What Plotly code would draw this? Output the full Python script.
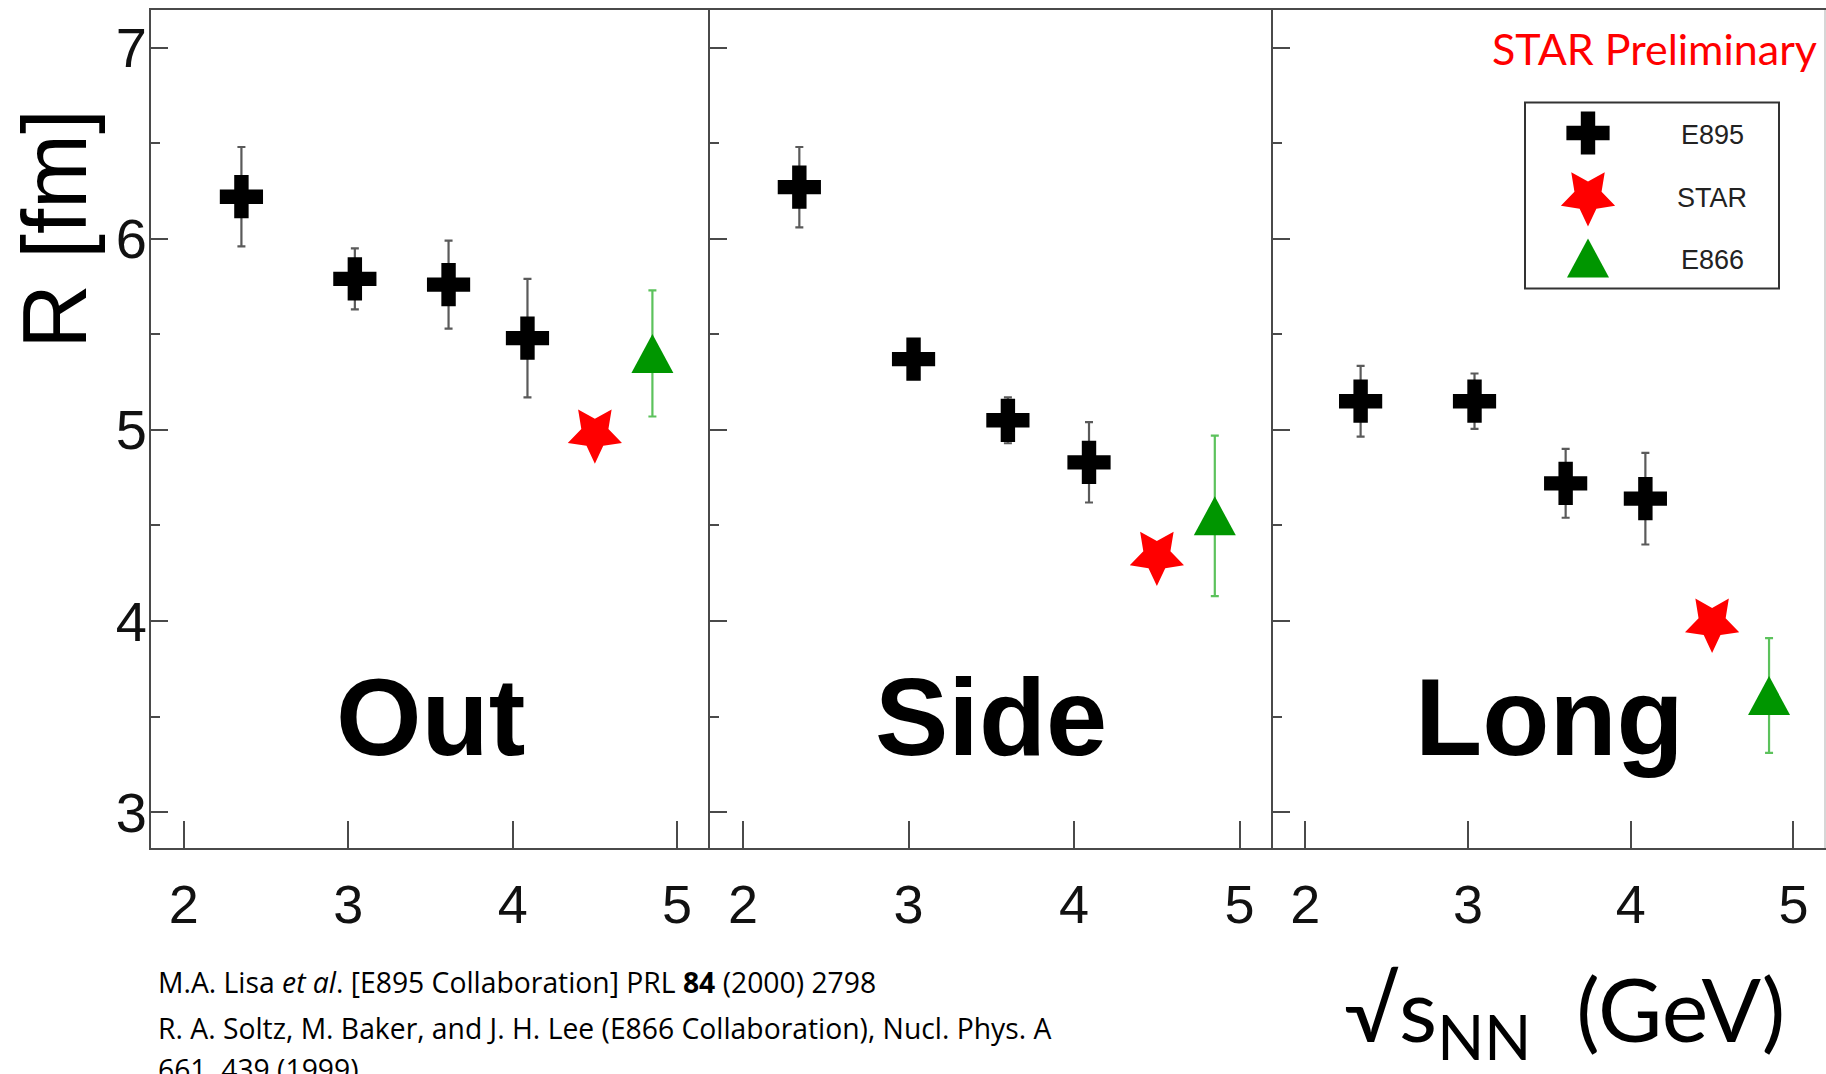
import math
import plotly.graph_objects as go

# ---- HBT radii vs collision energy (sqrt(s_NN) in GeV, R in fm) ----
panel_names = ["Out", "Side", "Long"]

# E895 (black crosses)
e895_out_x = [2.35, 3.04, 3.61, 4.09]
e895_out_r = [6.22, 5.79, 5.76, 5.48]
e895_out_err = [0.26, 0.16, 0.23, 0.31]

e895_side_x = [2.34, 3.03, 3.60, 4.09]
e895_side_r = [6.27, 5.37, 5.05, 4.83]
e895_side_err = [0.21, 0.08, 0.12, 0.21]

e895_long_x = [2.34, 3.04, 3.60, 4.09]
e895_long_r = [5.15, 5.15, 4.72, 4.64]
e895_long_err = [0.185, 0.145, 0.18, 0.24]

# STAR (red stars), one point per panel: Out, Side, Long
star_x = [4.50, 4.50, 4.50]
star_r = [4.98, 4.34, 3.99]

# E866 (green triangles), one point per panel: Out, Side, Long
e866_x = [4.85, 4.85, 4.85]
e866_r = [5.40, 4.55, 3.61]
e866_err = [0.33, 0.42, 0.30]

x_ticks = [2, 3, 4, 5]
y_ticks = [3, 4, 5, 6, 7]

# ---- page geometry ----
W, H = 1826, 1074
ML, MR, MT, MB = 151, 0, 10, 226
PW, PH = W - ML - MR, H - MT - MB


def px_x(x):
    """page pixel -> paper fraction (horizontal)"""
    return (x - ML) / PW


def px_y(y):
    """page pixel -> paper fraction (vertical)"""
    return (H - MB - y) / PH


FRAME = "#4a4a4a"
BLACK = "#000000"
RED = "#ff0000"
GREEN = "#009600"
GREEN_BAR = "#5cc25c"
AXIS_FONT = "Liberation Sans, Arial, sans-serif"
TEXT_FONT = "Lato, 'Open Sans', sans-serif"
REF_FONT = "'Open Sans', Lato, sans-serif"

e895_sets = [
    (e895_out_x, e895_out_r, e895_out_err),
    (e895_side_x, e895_side_r, e895_side_err),
    (e895_long_x, e895_long_r, e895_long_err),
]


def star_path(rx, ry, inner=0.5):
    """Five-pointed star, single point facing down, in pixel units (y up)."""
    pts = []
    for k in range(10):
        ang = math.radians(-90 + 36 * k)
        rad = 1.0 if k % 2 == 0 else inner
        pts.append((rad * rx * math.cos(ang), rad * ry * math.sin(ang)))
    return "M" + " L".join(f"{x:.2f},{y:.2f}" for x, y in pts) + " Z"


TRI_PATH = "M-21,-19.5 L21,-19.5 L0,19.5 Z"
STAR_PATH = star_path(28.5, 30.0, 0.5)


def marker_shape(path, xref, yref, x, y, color):
    return dict(type="path", path=path, xref=xref, yref=yref,
                xsizemode="pixel", ysizemode="pixel", xanchor=x, yanchor=y,
                fillcolor=color, line=dict(width=0), layer="above")


fig = go.Figure()
shapes = []

for i, name in enumerate(panel_names):
    xa = "x" if i == 0 else f"x{i + 1}"
    ya = "y" if i == 0 else f"y{i + 1}"
    ex, er, ee = e895_sets[i]

    # E895
    fig.add_trace(go.Scatter(
        x=ex, y=er, xaxis=xa, yaxis=ya, mode="markers", name="E895",
        showlegend=False, cliponaxis=False,
        marker=dict(symbol="cross", size=36, color=BLACK, line=dict(width=0)),
        error_y=dict(type="data", array=ee, color="#5a5a5a", thickness=2.2, width=4),
    ))
    # E866 error bars (triangle drawn as a shape anchored on the point)
    fig.add_trace(go.Scatter(
        x=[e866_x[i]], y=[e866_r[i]], xaxis=xa, yaxis=ya, mode="markers",
        name="E866", showlegend=False, cliponaxis=False,
        marker=dict(size=1, color="rgba(0,0,0,0)"),
        error_y=dict(type="data", array=[e866_err[i]], color=GREEN_BAR, thickness=2.2, width=4),
    ))
    shapes.append(marker_shape(TRI_PATH, xa, ya, e866_x[i], e866_r[i], GREEN))
    # STAR point (star drawn as a shape anchored on the point)
    fig.add_trace(go.Scatter(
        x=[star_x[i]], y=[star_r[i]], xaxis=xa, yaxis=ya, mode="markers",
        name="STAR", showlegend=False, cliponaxis=False,
        marker=dict(size=1, color="rgba(0,0,0,0)"),
    ))
    shapes.append(marker_shape(STAR_PATH, xa, ya, star_x[i], star_r[i], RED))

# ---- legend (drawn by hand) ----
LEG_X0, LEG_X1 = px_x(1525), px_x(1779)
LEG_Y0, LEG_Y1 = px_y(288.6), px_y(102.6)
leg_key_x = px_x(1588)
leg_rows = [px_y(133), px_y(196.5), px_y(258)]
leg_text_x = px_x(1712)
leg_text_rows = [px_y(135), px_y(198), px_y(260)]

shapes.append(dict(type="rect", xref="paper", yref="paper",
                   x0=LEG_X0, x1=LEG_X1, y0=LEG_Y0, y1=LEG_Y1,
                   line=dict(color="#333333", width=2), layer="below"))

fig.add_trace(go.Scatter(
    x=[leg_key_x], y=[leg_rows[0]], xaxis="x4", yaxis="y4", mode="markers",
    showlegend=False, cliponaxis=False,
    marker=dict(symbol="cross", size=36, color=BLACK, line=dict(width=0)),
))
shapes.append(marker_shape(STAR_PATH, "paper", "paper", leg_key_x, leg_rows[1], RED))
shapes.append(marker_shape(TRI_PATH, "paper", "paper", leg_key_x, leg_rows[2], GREEN))

# faint right-hand edge of the frame
shapes.append(dict(type="line", xref="paper", yref="paper",
                   x0=px_x(1825), x1=px_x(1825), y0=0, y1=1,
                   line=dict(color="#c8c8c8", width=1.5), layer="below"))

annotations = []
for label, yy in zip(["E895", "STAR", "E866"], leg_text_rows):
    annotations.append(dict(
        text=label, xref="paper", yref="paper", x=leg_text_x, y=yy,
        xanchor="center", yanchor="middle", showarrow=False,
        font=dict(family=AXIS_FONT, size=27, color="#222222"),
    ))

# panel names
for i, name in enumerate(panel_names):
    xa = "x" if i == 0 else f"x{i + 1}"
    ya = "y" if i == 0 else f"y{i + 1}"
    annotations.append(dict(
        text=f"<b>{name}</b>", xref=xa, yref=ya, x=3.5, y=3.5,
        xanchor="center", yanchor="middle", showarrow=False,
        font=dict(family=AXIS_FONT, size=110, color=BLACK),
    ))

# y-axis title
annotations.append(dict(
    text="R [fm]", xref="paper", yref="paper", x=px_x(55), y=px_y(229),
    xanchor="center", yanchor="middle", textangle=-90, showarrow=False,
    font=dict(family=AXIS_FONT, size=90, color=BLACK),
))

# preliminary tag
annotations.append(dict(
    text="STAR Preliminary", xref="paper", yref="paper", x=px_x(1819), y=px_y(48),
    xanchor="right", yanchor="middle", showarrow=False,
    font=dict(family=TEXT_FONT, size=43, color=RED),
))

# x-axis title
annotations.append(dict(
    text="\u221As<sub>NN</sub>\u00a0\u00a0(GeV)", xref="paper", yref="paper",
    x=px_x(1787), y=px_y(1014), xanchor="right", yanchor="middle", showarrow=False,
    font=dict(family=TEXT_FONT, size=88, color=BLACK),
))

# references
refs = [
    ("M.A. Lisa <i>et al</i>. [E895 Collaboration] PRL <b>84</b> (2000) 2798", 982),
    ("R. A. Soltz, M. Baker, and J. H. Lee (E866 Collaboration), Nucl. Phys. A", 1028),
    ("661, 439 (1999)", 1069),
]
for txt, yc in refs:
    annotations.append(dict(
        text=txt, xref="paper", yref="paper", x=px_x(156), y=px_y(yc),
        xanchor="left", yanchor="middle", showarrow=False,
        font=dict(family=REF_FONT, size=28.3, color=BLACK),
    ))

# ---- axes ----
domains = [[0.0, 0.3337], [0.3337, 0.6697], [0.6697, 1.0]]
layout_axes = {}
for i in range(3):
    xk = "xaxis" if i == 0 else f"xaxis{i + 1}"
    yk = "yaxis" if i == 0 else f"yaxis{i + 1}"
    ya = "y" if i == 0 else f"y{i + 1}"
    xa = "x" if i == 0 else f"x{i + 1}"
    layout_axes[xk] = dict(
        domain=domains[i], anchor=ya, range=[1.8, 5.2],
        showline=True, linecolor=FRAME, linewidth=2, mirror=True,
        ticks="inside", ticklen=27, tickwidth=2, tickcolor=FRAME,
        tickvals=x_ticks, ticktext=[str(v) for v in x_ticks],
        tickfont=dict(family=AXIS_FONT, size=54, color="#111111"),
        ticklabelstandoff=8,
        showgrid=False, zeroline=False, fixedrange=True,
    )
    layout_axes[yk] = dict(
        domain=[0, 1], anchor=xa, range=[2.812, 7.197],
        showline=True, linecolor=FRAME, linewidth=2, mirror=False,
        ticks="inside", ticklen=17, tickwidth=2, tickcolor=FRAME,
        tickvals=y_ticks, ticktext=[str(v) for v in y_ticks],
        showticklabels=(i == 0),
        tickfont=dict(family=AXIS_FONT, size=56, color="#111111"),
        ticklabelstandoff=-9,
        minor=dict(ticks="inside", ticklen=9, tickwidth=2, tickcolor=FRAME,
                   tickvals=[3.5, 4.5, 5.5, 6.5]),
        showgrid=False, zeroline=False, fixedrange=True,
    )

layout_axes["xaxis4"] = dict(domain=[0, 1], anchor="y4", range=[0, 1], visible=False, fixedrange=True)
layout_axes["yaxis4"] = dict(domain=[0, 1], anchor="x4", range=[0, 1], visible=False, fixedrange=True)

fig.update_layout(
    width=W, height=H,
    margin=dict(l=ML, r=MR, t=MT, b=MB, pad=0),
    paper_bgcolor="white", plot_bgcolor="rgba(0,0,0,0)",
    showlegend=False,
    shapes=shapes,
    annotations=annotations,
    **layout_axes,
)

fig.write_html("out.html", config={"displayModeBar": False})
